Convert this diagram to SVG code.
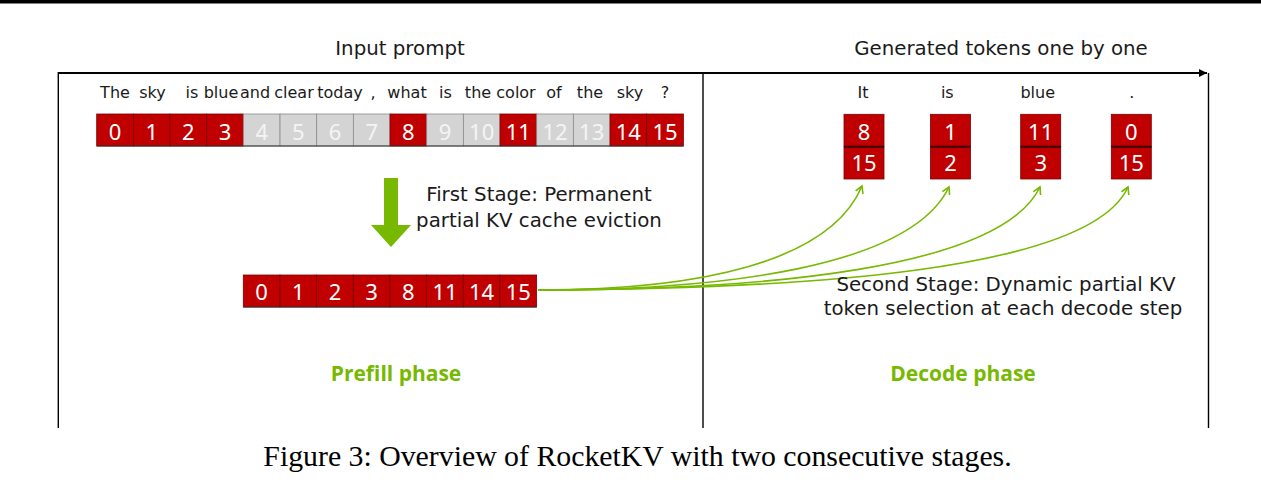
<svg xmlns="http://www.w3.org/2000/svg" width="1261" height="504" viewBox="0 0 1261 504">
<defs>
<style>
.txt{font-family:"DejaVu Sans","Noto Sans",sans-serif;fill:#1a1a1a}
.word{font-family:"DejaVu Sans","Noto Sans",sans-serif;font-size:16px;fill:#1a1a1a;text-anchor:middle}
.lbl{font-family:"DejaVu Sans","Noto Sans",sans-serif;font-size:19.8px;fill:#1a1a1a;text-anchor:middle}
.phase{font-family:"Open Sans","Noto Sans",sans-serif;font-size:21px;font-weight:700;fill:#76b900;text-anchor:middle}
.cap{font-family:"Liberation Serif","Times New Roman",serif;font-size:29.8px;fill:#000;text-anchor:middle}
.red{fill:#c00000;stroke:#7a0000;stroke-width:0.8}
.gray{fill:#d4d4d4;stroke:#8c8c8c;stroke-width:0.8}
.num{font-family:"Noto Sans","DejaVu Sans",sans-serif;font-size:22px;text-anchor:middle;fill:#ffffff}
.gnum{font-family:"Noto Sans","DejaVu Sans",sans-serif;font-size:22px;text-anchor:middle;fill:#f4f4f4}
.frame{stroke:#000;fill:none}
.conn{fill:none;stroke:#76b900;stroke-width:1.6}
</style>
<marker id="chev" markerUnits="userSpaceOnUse" markerWidth="12" markerHeight="12" viewBox="-9 -6 10 12" refX="0" refY="0" orient="auto">
<path d="M-7,-4 L0,0 L-7,4" fill="none" stroke="#76b900" stroke-width="1.6"/>
</marker>
<marker id="blk" markerUnits="userSpaceOnUse" markerWidth="10" markerHeight="10" viewBox="-9 -5 10 10" refX="0" refY="0" orient="auto">
<path d="M-8,-4 L0,0 L-8,4 Z" fill="#000"/>
</marker>
</defs>
<rect width="1261" height="504" fill="#fff"/>
<rect x="0" y="0" width="1261" height="3.5" fill="#000"/>

<g id="frame">
<line class="frame" x1="58" y1="73" x2="1207" y2="73" stroke-width="2.2" marker-end="url(#blk)"/>
<line class="frame" x1="58.3" y1="72" x2="58.3" y2="428" stroke-width="1.4"/>
<line class="frame" x1="703" y1="73" x2="703" y2="428" stroke-width="1.4"/>
<line class="frame" x1="1208.5" y1="73" x2="1208.5" y2="428" stroke-width="1.4"/>
</g>

<g id="headers">
<text class="lbl" x="400" y="55" font-size="20">Input prompt</text>
<text class="lbl" x="1001" y="55" font-size="20">Generated tokens one by one</text>
</g>

<g id="prompt-words">
<text class="word" x="115" y="98">The</text>
<text class="word" x="152.5" y="98">sky</text>
<text class="word" x="192" y="98">is</text>
<text class="word" x="221" y="98">blue</text>
<text class="word" x="255" y="98">and</text>
<text class="word" x="294" y="98">clear</text>
<text class="word" x="340" y="98">today</text>
<text class="word" x="373" y="98">,</text>
<text class="word" x="407" y="98">what</text>
<text class="word" x="445.5" y="98">is</text>
<text class="word" x="478" y="98">the</text>
<text class="word" x="516" y="98">color</text>
<text class="word" x="554" y="98">of</text>
<text class="word" x="590" y="98">the</text>
<text class="word" x="630" y="98">sky</text>
<text class="word" x="665" y="98">?</text>
</g>

<g id="prompt-tokens">
<g id="tok0"><rect class="red" x="96.7" y="114" width="36.67" height="32"/><text class="num" x="115.03" y="139.5">0</text></g>
<g id="tok1"><rect class="red" x="133.37" y="114" width="36.67" height="32"/><text class="num" x="151.7" y="139.5">1</text></g>
<g id="tok2"><rect class="red" x="170.03" y="114" width="36.67" height="32"/><text class="num" x="188.37" y="139.5">2</text></g>
<g id="tok3"><rect class="red" x="206.7" y="114" width="36.67" height="32"/><text class="num" x="225.03" y="139.5">3</text></g>
<g id="tok4"><rect class="gray" x="243.37" y="114" width="36.67" height="32"/><text class="gnum" x="261.7" y="139.5">4</text></g>
<g id="tok5"><rect class="gray" x="280.03" y="114" width="36.67" height="32"/><text class="gnum" x="298.37" y="139.5">5</text></g>
<g id="tok6"><rect class="gray" x="316.7" y="114" width="36.67" height="32"/><text class="gnum" x="335.03" y="139.5">6</text></g>
<g id="tok7"><rect class="gray" x="353.37" y="114" width="36.67" height="32"/><text class="gnum" x="371.7" y="139.5">7</text></g>
<g id="tok8"><rect class="red" x="390.03" y="114" width="36.67" height="32"/><text class="num" x="408.37" y="139.5">8</text></g>
<g id="tok9"><rect class="gray" x="426.7" y="114" width="36.67" height="32"/><text class="gnum" x="445.03" y="139.5">9</text></g>
<g id="tok10"><rect class="gray" x="463.37" y="114" width="36.67" height="32"/><text class="gnum" x="481.7" y="139.5">10</text></g>
<g id="tok11"><rect class="red" x="500.03" y="114" width="36.67" height="32"/><text class="num" x="518.37" y="139.5">11</text></g>
<g id="tok12"><rect class="gray" x="536.7" y="114" width="36.67" height="32"/><text class="gnum" x="555.03" y="139.5">12</text></g>
<g id="tok13"><rect class="gray" x="573.37" y="114" width="36.67" height="32"/><text class="gnum" x="591.7" y="139.5">13</text></g>
<g id="tok14"><rect class="red" x="610.03" y="114" width="36.67" height="32"/><text class="num" x="628.37" y="139.5">14</text></g>
<g id="tok15"><rect class="red" x="646.7" y="114" width="36.67" height="32"/><text class="num" x="665.03" y="139.5">15</text></g>
<line x1="96.7" y1="146" x2="683.4" y2="146" stroke="#333" stroke-width="1.2"/>
</g>

<g id="stage1-arrow">
<path d="M384,178 H398 V225 H411 L391,247 L371,225 H384 Z" fill="#76b900"/>
<text class="lbl" x="539" y="200.5">First Stage: Permanent</text>
<text class="lbl" x="539" y="226.5">partial KV cache eviction</text>
</g>

<g id="kept-tokens">
<g id="kept0"><rect class="red" x="243.3" y="275" width="36.67" height="32"/><text class="num" x="261.63" y="300">0</text></g>
<g id="kept1"><rect class="red" x="279.97" y="275" width="36.67" height="32"/><text class="num" x="298.3" y="300">1</text></g>
<g id="kept2"><rect class="red" x="316.63" y="275" width="36.67" height="32"/><text class="num" x="334.97" y="300">2</text></g>
<g id="kept3"><rect class="red" x="353.3" y="275" width="36.67" height="32"/><text class="num" x="371.63" y="300">3</text></g>
<g id="kept4"><rect class="red" x="389.97" y="275" width="36.67" height="32"/><text class="num" x="408.3" y="300">8</text></g>
<g id="kept5"><rect class="red" x="426.63" y="275" width="36.67" height="32"/><text class="num" x="444.97" y="300">11</text></g>
<g id="kept6"><rect class="red" x="463.3" y="275" width="36.67" height="32"/><text class="num" x="481.63" y="300">14</text></g>
<g id="kept7"><rect class="red" x="499.97" y="275" width="36.67" height="32"/><text class="num" x="518.3" y="300">15</text></g>
<line x1="243.3" y1="307" x2="536.6" y2="307" stroke="#333" stroke-width="1.2"/>
</g>

<g id="decode-steps">
<g id="step-it">
<text class="word" x="863" y="98">It</text>
<rect class="red" x="844" y="114.3" width="40" height="32.4"/><text class="num" x="864" y="140">8</text>
<rect class="red" x="844" y="146.7" width="40" height="32.3"/><text class="num" x="864" y="171">15</text>
<line x1="844" y1="146.7" x2="884" y2="146.7" stroke="#3a0000" stroke-width="2"/>
</g>
<g id="step-is">
<text class="word" x="947.3" y="98">is</text>
<rect class="red" x="930.5" y="114.3" width="40" height="32.4"/><text class="num" x="950.5" y="140">1</text>
<rect class="red" x="930.5" y="146.7" width="40" height="32.3"/><text class="num" x="950.5" y="171">2</text>
<line x1="930.5" y1="146.7" x2="970.5" y2="146.7" stroke="#3a0000" stroke-width="2"/>
</g>
<g id="step-blue">
<text class="word" x="1037.7" y="98">blue</text>
<rect class="red" x="1020.7" y="114.3" width="40" height="32.4"/><text class="num" x="1040.7" y="140">11</text>
<rect class="red" x="1020.7" y="146.7" width="40" height="32.3"/><text class="num" x="1040.7" y="171">3</text>
<line x1="1020.7" y1="146.7" x2="1060.7" y2="146.7" stroke="#3a0000" stroke-width="2"/>
</g>
<g id="step-dot">
<text class="word" x="1131.7" y="98">.</text>
<rect class="red" x="1111.3" y="114.3" width="40" height="32.4"/><text class="num" x="1131.3" y="140">0</text>
<rect class="red" x="1111.3" y="146.7" width="40" height="32.3"/><text class="num" x="1131.3" y="171">15</text>
<line x1="1111.3" y1="146.7" x2="1151.3" y2="146.7" stroke="#3a0000" stroke-width="2"/>
</g>
</g>

<g id="connectors">
<path class="conn" d="M538,290 C700,290 830,262 862,186" marker-end="url(#chev)"/>
<path class="conn" d="M538,290 C720,290 910,268 949,187" marker-end="url(#chev)"/>
<path class="conn" d="M538,290 C760,290 1000,270 1040,187" marker-end="url(#chev)"/>
<path class="conn" d="M538,290 C800,289 1090,272 1128,187" marker-end="url(#chev)"/>
</g>

<g id="stage2-label">
<text class="lbl" x="1006" y="291">Second Stage: Dynamic partial KV</text>
<text class="lbl" x="1003" y="315">token selection at each decode step</text>
</g>

<g id="phases">
<text class="phase" x="396" y="381">Prefill phase</text>
<text class="phase" x="963" y="381">Decode phase</text>
</g>

<text class="cap" x="637.5" y="466">Figure 3: Overview of RocketKV with two consecutive stages.</text>
</svg>
